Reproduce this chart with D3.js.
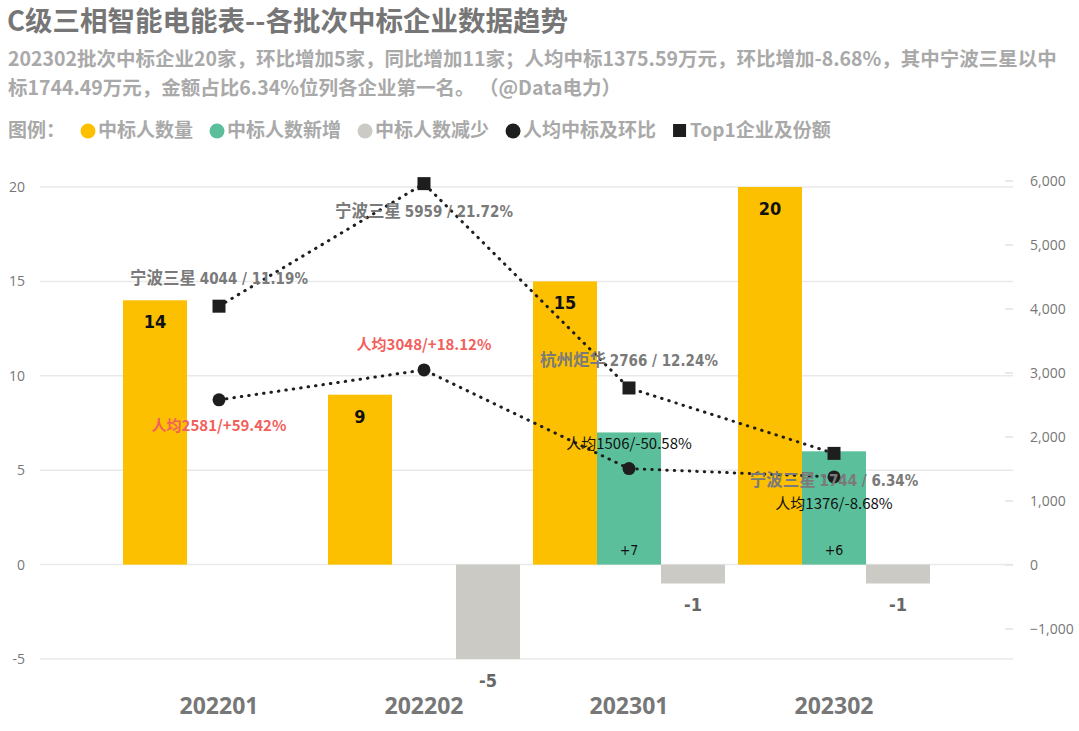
<!DOCTYPE html>
<html>
<head>
<meta charset="utf-8">
<script src="https://cdn.jsdelivr.net/npm/d3@7"></script>
<style>
  body { margin: 0; background: #fff; }
  svg { font-family: "Noto Sans CJK SC", "Open Sans", sans-serif; }
</style>
</head>
<body>
<svg id="chart" width="1079" height="731"></svg>
<script>
// batches
var batches = ["202201", "202202", "202301", "202302"];
// bar series (left axis)
var winnerCount = [14, 9, 15, 20];
var winnerNew = [0, 0, 7, 6];
var winnerLost = [0, -5, -1, -1];
// line series (right axis, 万元)
var avgAmount = [2581, 3048, 1506, 1376];
var avgChange = ["+59.42%", "+18.12%", "-50.58%", "-8.68%"];
var top1Amount = [4044, 5959, 2766, 1744];
var top1Name = ["宁波三星", "宁波三星", "杭州炬华", "宁波三星"];
var top1Share = ["11.19%", "21.72%", "12.24%", "6.34%"];
// axis ticks
var leftTicks = [-5, 0, 5, 10, 15, 20];
var rightTicks = [-1000, 0, 1000, 2000, 3000, 4000, 5000, 6000];

var legendItems = [
  { name: "中标人数量", color: "#fdc000", shape: "circle" },
  { name: "中标人数新增", color: "#5cbf9b", shape: "circle" },
  { name: "中标人数减少", color: "#cbcac5", shape: "circle" },
  { name: "人均中标及环比", color: "#1e1e1e", shape: "circle" },
  { name: "Top1企业及份额", color: "#1e1e1e", shape: "square" }
];

var svg = d3.select("#chart");
var numFont = '"Liberation Sans Narrow", "DejaVu Sans Condensed", sans-serif';

// title & subtitle
svg.append("text").attr("x", 7).attr("y", 31)
  .attr("font-size", 27.5).attr("font-weight", 700).attr("fill", "#767676")
  .text("C级三相智能电能表--各批次中标企业数据趋势");
var sub = [
  "202302批次中标企业20家，环比增加5家，同比增加11家；人均中标1375.59万元，环比增加-8.68%，其中宁波三星以中",
  "标1744.49万元，金额占比6.34%位列各企业第一名。 （@Data电力）"
];
svg.selectAll(".sub").data(sub).enter().append("text")
  .attr("x", 8).attr("y", (d, i) => 66 + i * 29)
  .attr("font-size", 19.5).attr("font-weight", 700).attr("fill", "#a9a9a9")
  .attr("xml:space", "preserve")
  .text(d => d);

// legend
var lg = svg.append("g").attr("font-size", 19).attr("font-weight", 700).attr("fill", "#a9a9a9");
lg.append("text").attr("x", 8).attr("y", 137).text("图例：");
var lx = 80;
legendItems.forEach(function (it) {
  if (it.shape == "circle") {
    lg.append("circle").attr("cx", lx + 8).attr("cy", 131).attr("r", 7.5).attr("fill", it.color);
  } else {
    lg.append("rect").attr("x", lx + 1).attr("y", 124).attr("width", 13).attr("height", 13).attr("fill", it.color);
  }
  var t = lg.append("text").attr("x", lx + 18).attr("y", 137).text(it.name);
  lx += 18 + t.node().getComputedTextLength() + 16;
});

// scales
var plotLeft = 40, plotRight = 1013;
var x0 = d3.scalePoint().domain(batches).range([219, 834]);
var x1 = d3.scaleBand().domain(["count", "new", "lost"]).range([-96, 96]);
var yL = d3.scaleLinear().domain([-5, 20]).range([659, 187]);
var yR = d3.scaleLinear().domain([0, 6000]).range([565, 181]);

// gridlines + left axis
var grid = svg.append("g");
grid.selectAll("line").data(leftTicks).enter().append("line")
  .attr("x1", plotLeft).attr("x2", plotRight)
  .attr("y1", d => yL(d)).attr("y2", d => yL(d))
  .attr("stroke", "#e9e9e9").attr("stroke-width", 1.5);
svg.append("g").selectAll("text").data(leftTicks).enter().append("text")
  .attr("x", 25).attr("y", d => yL(d) + 5).attr("text-anchor", "end")
  .attr("font-family", '"Open Sans", sans-serif')
  .attr("font-size", 14).attr("fill", "#777").text(d => d);

// right axis
var rAxis = svg.append("g");
rAxis.selectAll("line").data(rightTicks).enter().append("line")
  .attr("x1", 1005).attr("x2", 1013)
  .attr("y1", d => yR(d)).attr("y2", d => yR(d))
  .attr("stroke", "#e3e3e3").attr("stroke-width", 1.5);
rAxis.selectAll("text").data(rightTicks).enter().append("text")
  .attr("x", 1030).attr("y", d => yR(d) + 5)
  .attr("font-family", '"Open Sans", sans-serif')
  .attr("font-size", 14).attr("fill", "#777").text(d => d3.format(",")(d));

// x axis labels
svg.append("g").selectAll("text").data(batches).enter().append("text")
  .attr("x", d => x0(d)).attr("y", 714).attr("text-anchor", "middle")
  .attr("font-family", '"Open Sans", sans-serif')
  .attr("font-size", 23).attr("font-weight", 700).attr("fill", "#777").text(d => d);

// bars
var barData = [];
batches.forEach(function (b, i) {
  barData.push({ b: b, key: "count", v: winnerCount[i], color: "#fdc000" });
  barData.push({ b: b, key: "new", v: winnerNew[i], color: "#5cbf9b" });
  barData.push({ b: b, key: "lost", v: winnerLost[i], color: "#cbcac5" });
});
barData = barData.filter(d => d.v != 0);

svg.append("g").selectAll("rect").data(barData).enter().append("rect")
  .attr("x", d => x0(d.b) + x1(d.key))
  .attr("width", x1.bandwidth())
  .attr("y", d => yL(Math.max(0, d.v)))
  .attr("height", d => Math.abs(yL(d.v) - yL(0)))
  .attr("fill", d => d.color);

// bar labels
svg.append("g").selectAll("text").data(barData).enter().append("text")
  .attr("x", d => x0(d.b) + x1(d.key) + x1.bandwidth() / 2)
  .attr("y", function (d) {
    if (d.key == "count") return yL(d.v) + 28;
    if (d.key == "new") return yL(0) - 10;
    return yL(d.v) + 28;
  })
  .attr("text-anchor", "middle")
  .attr("font-family", numFont)
  .attr("font-size", d => d.key == "new" ? 14 : 18)
  .attr("font-weight", d => d.key == "new" ? 400 : 700)
  .attr("fill", d => d.key == "lost" ? "#666" : "#111")
  .text(d => d.key == "new" ? "+" + d.v : d.v);

// lines
function drawLine(values) {
  var line = d3.line().x((d, i) => x0(batches[i])).y(d => yR(d));
  svg.append("path").datum(values).attr("d", line)
    .attr("fill", "none").attr("stroke", "#1e1e1e").attr("stroke-width", 3)
    .attr("stroke-linecap", "round").attr("stroke-dasharray", "0.5,7");
}
drawLine(top1Amount);
drawLine(avgAmount);

svg.append("g").selectAll("rect").data(top1Amount).enter().append("rect")
  .attr("x", (d, i) => x0(batches[i]) - 6.5).attr("y", d => yR(d) - 6.5)
  .attr("width", 13).attr("height", 13).attr("fill", "#1e1e1e");
svg.append("g").selectAll("circle").data(avgAmount).enter().append("circle")
  .attr("cx", (d, i) => x0(batches[i])).attr("cy", d => yR(d))
  .attr("r", 6.5).attr("fill", "#1e1e1e");

// top1 labels
var top1Off = [-22, 33, -22, 33];
var tl = svg.append("g").selectAll("text").data(top1Amount).enter().append("text")
  .attr("x", (d, i) => x0(batches[i]))
  .attr("y", (d, i) => yR(d) + top1Off[i])
  .attr("text-anchor", "middle").attr("font-weight", 700).attr("fill", "#7a7a7a");
tl.append("tspan").attr("font-size", 16.5).text((d, i) => top1Name[i] + " ");
tl.append("tspan").attr("font-size", 15).attr("font-family", numFont)
  .text((d, i) => d + " / " + top1Share[i]);

// average labels
var avgOff = [31, -20, -20, 32];
svg.append("g").selectAll("text").data(avgAmount).enter().append("text")
  .attr("x", (d, i) => x0(batches[i]))
  .attr("y", (d, i) => yR(d) + avgOff[i])
  .attr("text-anchor", "middle").attr("font-size", 15)
  .attr("font-weight", (d, i) => avgChange[i][0] == "+" ? 700 : 400)
  .attr("fill", (d, i) => avgChange[i][0] == "+" ? "#f25f5c" : "#111")
  .text((d, i) => "人均" + d + "/" + avgChange[i]);
</script>
</body>
</html>
